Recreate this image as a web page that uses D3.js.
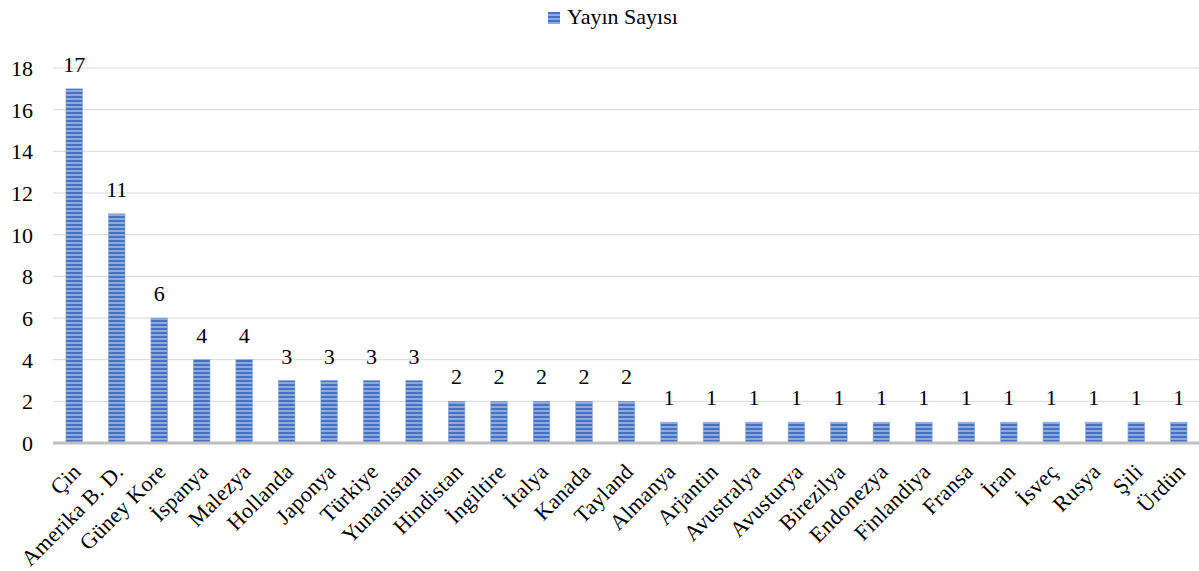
<!DOCTYPE html>
<html>
<head>
<meta charset="utf-8">
<script src="https://cdn.jsdelivr.net/npm/d3@7"></script>
<style>
  html, body { margin: 0; padding: 0; background: #fff; }
  svg { display: block; }
  text { font-family: "Palatino Linotype", "Book Antiqua", Palatino, "Liberation Serif", serif; fill: #000; }
</style>
</head>
<body>
<svg id="chart" width="1199" height="571"></svg>
<script>
// Publications per country
const countries = ["Çin", "Amerika B. D.", "Güney Kore", "İspanya", "Malezya", "Hollanda", "Japonya",
  "Türkiye", "Yunanistan", "Hindistan", "İngiltire", "İtalya", "Kanada", "Tayland", "Almanya",
  "Arjantin", "Avustralya", "Avusturya", "Birezilya", "Endonezya", "Finlandiya", "Fransa", "İran",
  "İsveç", "Rusya", "Şili", "Ürdün"];
const publications = [17, 11, 6, 4, 4, 3, 3, 3, 3, 2, 2, 2, 2, 2, 1, 1, 1, 1, 1, 1, 1, 1, 1, 1, 1, 1, 1];
const yTicks = [0, 2, 4, 6, 8, 10, 12, 14, 16, 18];
const seriesName = "Yayın Sayısı";

const FONT = "\"Palatino Linotype\", \"Book Antiqua\", Palatino, \"Liberation Serif\", serif";
const FS = 22;

const svg = d3.select("#chart");
const margin = { left: 53, right: -1, top: 68, bottom: 128 };
const W = 1199, H = 571;

const x = d3.scaleBand().domain(countries).range([margin.left, W - margin.right]).paddingInner(0.61).paddingOuter(0.305);
const y = d3.scaleLinear().domain([0, 18]).range([H - margin.bottom, margin.top]);

// Striped fill for the bars
const defs = svg.append("defs");
const pat = defs.append("pattern").attr("id", "stripes").attr("patternUnits", "userSpaceOnUse")
  .attr("width", 8).attr("height", 4);
pat.append("rect").attr("width", 8).attr("height", 4).attr("fill", "#4672c4");
pat.append("rect").attr("y", 2.2).attr("width", 8).attr("height", 1.6).attr("fill", "#a0b8e4");

// Gridlines
svg.append("g").selectAll("line").data(yTicks.filter(d => d > 0)).join("line")
  .attr("x1", margin.left).attr("x2", W)
  .attr("y1", d => y(d)).attr("y2", d => y(d))
  .attr("stroke", "#d9d9d9").attr("stroke-width", 1);

// Y axis labels
const yAxis = d3.axisLeft(y).tickValues(yTicks).tickSize(0).tickPadding(0);
const gy = svg.append("g").attr("transform", `translate(33,0)`).call(yAxis);
gy.select(".domain").remove();
gy.selectAll("text").attr("font-size", FS).attr("dy", "0.34em").style("font-family", FONT);

// Bars
svg.append("g").selectAll("rect").data(countries).join("rect")
  .attr("x", d => x(d)).attr("width", x.bandwidth())
  .attr("y", (d, i) => y(publications[i]))
  .attr("height", (d, i) => y(0) - y(publications[i]))
  .attr("fill", "url(#stripes)")
  .attr("stroke", "#87a5da").attr("stroke-width", 0.6);

// Baseline
svg.append("line").attr("x1", margin.left).attr("x2", W)
  .attr("y1", y(0)).attr("y2", y(0)).attr("stroke", "#bfbfbf").attr("stroke-width", 3);

// Value labels
svg.append("g").selectAll("text").data(countries).join("text")
  .attr("x", d => x(d) + x.bandwidth() / 2)
  .attr("y", (d, i) => y(publications[i]) - 17)
  .attr("text-anchor", "middle").attr("font-size", FS)
  .text((d, i) => publications[i]);

// Category labels, slanted
const xAxis = d3.axisBottom(x).tickSize(0).tickPadding(0);
const gx = svg.append("g").attr("transform", `translate(0,${y(0)})`).call(xAxis);
gx.select(".domain").remove();
gx.selectAll("text")
  .attr("font-size", FS)
  .style("font-family", FONT)
  .style("letter-spacing", "0.3px")
  .attr("text-anchor", "end")
  .attr("transform", "translate(8,30) rotate(-45)")
  .attr("dy", 0).attr("y", 0).attr("x", 0);

// Legend
const lg = svg.append("g").attr("transform", "translate(548,12)");
lg.append("rect").attr("width", 12).attr("height", 12).attr("fill", "url(#stripes)");
lg.append("text").attr("x", 19).attr("y", 12).attr("font-size", FS).text(seriesName);
</script>
</body>
</html>
